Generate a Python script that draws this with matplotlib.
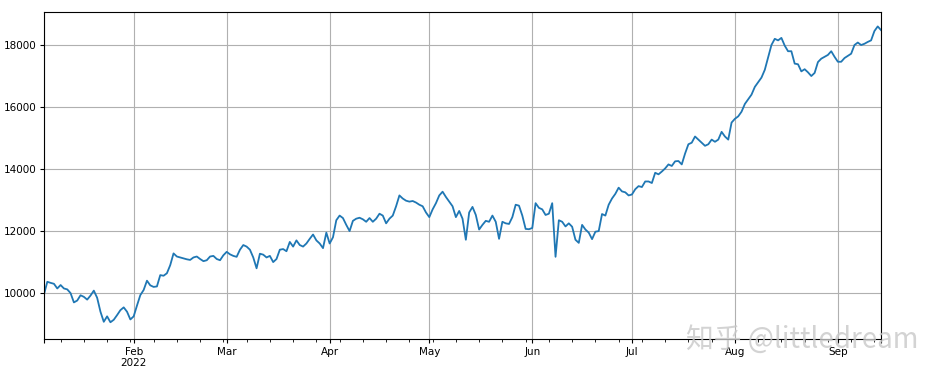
import pandas as pd
import matplotlib.pyplot as plt

# daily values, 2022-01-05 .. 2022-09-14
start_date = '2022-01-05'
jan = [9960, 10365, 10330, 10300, 10150, 10260, 10150, 10120, 10000, 9700,
       9760, 9930, 9880, 9790, 9920, 10080, 9850, 9400, 9075, 9250,
       9060, 9140, 9290, 9450, 9540, 9400, 9150]
feb = [9250, 9600, 9935, 10100, 10400, 10250, 10200, 10215, 10580, 10560,
       10640, 10900, 11280, 11180, 11150, 11120, 11090, 11070, 11150, 11180,
       11100, 11030, 11060, 11180, 11200, 11100, 11060, 11220]
mar = [11330, 11250, 11200, 11170, 11400, 11550, 11500, 11400, 11150, 10800,
       11270, 11240, 11150, 11200, 11000, 11100, 11400, 11420, 11350, 11650,
       11500, 11700, 11550, 11500, 11600, 11750, 11890, 11700, 11600, 11450,
       11950]
apr = [11600, 11800, 12350, 12500, 12420, 12200, 12000, 12330, 12400, 12430,
       12380, 12300, 12420, 12300, 12400, 12560, 12500, 12250, 12400, 12500,
       12800, 13150, 13050, 12980, 12950, 12970, 12920, 12850, 12800, 12600]
may = [12450, 12700, 12900, 13150, 13270, 13100, 12950, 12800, 12450, 12650,
       12400, 11720, 12600, 12780, 12520, 12050, 12200, 12330, 12300, 12500,
       12300, 11750, 12300, 12250, 12230, 12450, 12850, 12820, 12500, 12070,
       12060]
jun = [12100, 12900, 12750, 12700, 12520, 12560, 12900, 11170, 12350, 12300,
       12150, 12250, 12140, 11720, 11620, 12200, 12050, 11950, 11740, 11980,
       12000, 12550, 12500, 12850, 13050, 13200, 13400, 13280, 13250, 13150]
jul = [13180, 13350, 13450, 13420, 13600, 13600, 13550, 13880, 13830, 13920,
       14020, 14150, 14100, 14250, 14260, 14150, 14500, 14800, 14850, 15050,
       14950, 14850, 14750, 14800, 14950, 14880, 14950, 15200, 15050, 14950,
       15500]
aug = [15620, 15700, 15850, 16100, 16250, 16400, 16650, 16800, 16950, 17200,
       17600, 18000, 18200, 18150, 18230, 17980, 17800, 17800, 17400, 17380,
       17150, 17220, 17120, 17000, 17100, 17450, 17560, 17620, 17680, 17800,
       17620]
sep = [17460, 17460, 17580, 17650, 17720, 18000, 18080, 18000, 18040, 18100,
       18150, 18450, 18600, 18480]

values = jan + feb + mar + apr + may + jun + jul + aug + sep
idx = pd.date_range(start_date, periods=len(values), freq='D')
s = pd.Series(values, index=idx)

fig = plt.figure(figsize=(9.42, 3.76), dpi=100)
ax = fig.add_axes([0.0467, 0.0984, 0.8886, 0.8697])
s.plot(ax=ax, grid=True, color='#1f77b4', linewidth=1.3)
ax.set_ylim(8520, 19065)
ax.tick_params(which='both', labelsize=7.5)
ax.tick_params(which='major', length=3, pad=2.5)
ax.tick_params(which='minor', length=2)
ax.grid(True, color='#b0b0b0', linewidth=0.8)

# watermark
fig.text(0.728, 0.095, '知乎 @littledream', fontsize=20, color='#c8c8c8', alpha=0.8,
         family=['Noto Sans CJK SC', 'DejaVu Sans'], va='center', ha='left')

fig.savefig('out.png', dpi=100)
